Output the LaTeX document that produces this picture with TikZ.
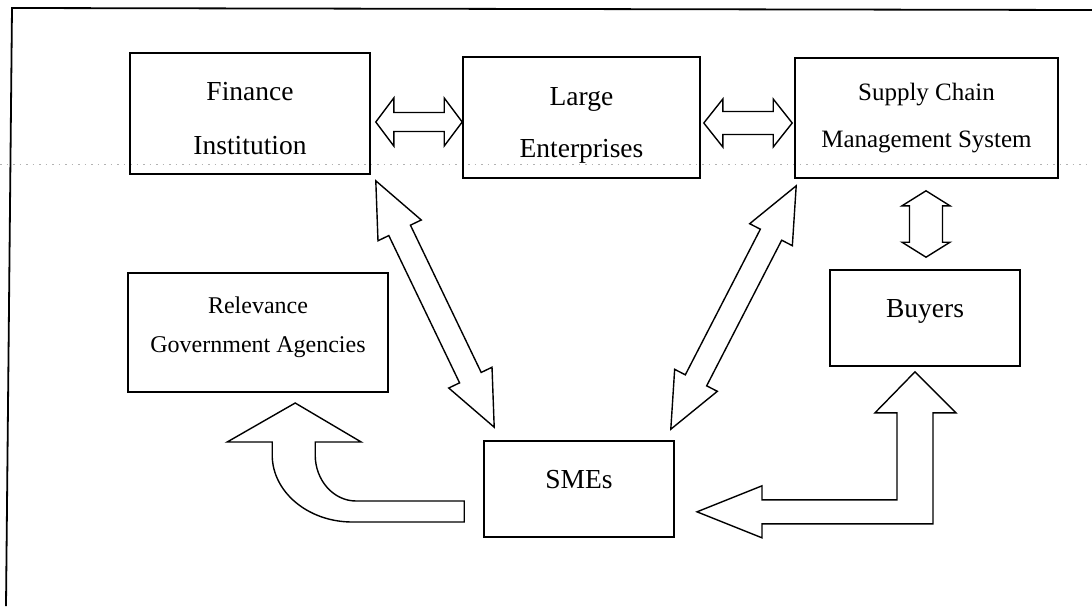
\documentclass[tikz,border=0pt]{standalone}
\usepackage{fontspec}
\setmainfont{Liberation Serif}
\usepackage{tikz}
\usetikzlibrary{calc}

\tikzset{
  box/.style={draw, line width=1.6pt, inner sep=0pt, align=center},
  blockarrow/.style={draw, line width=1.4pt, fill=white, line join=miter},
  bigtext/.style={font=\fontsize{27.5}{54}\selectfont}
}

% double-headed block arrow: tips, shaft half width, head half width, head length
\newcommand{\twoway}[5]{%
  \draw[blockarrow] (#1)
    -- ($(#1)!#5!(#2)!#4!90:(#2)$)
    -- ($(#1)!#5!(#2)!#3!90:(#2)$)
    -- ($(#2)!#5!(#1)!#3!-90:(#1)$)
    -- ($(#2)!#5!(#1)!#4!-90:(#1)$)
    -- (#2)
    -- ($(#2)!#5!(#1)!#4!90:(#1)$)
    -- ($(#2)!#5!(#1)!#3!90:(#1)$)
    -- ($(#1)!#5!(#2)!#3!-90:(#2)$)
    -- ($(#1)!#5!(#2)!#4!-90:(#2)$)
    -- cycle;}

\begin{document}
\begin{tikzpicture}[x=1pt, y=-1pt]
            \useasboundingbox (0,0) rectangle (1092,606);
            \draw[gray!60, line width=0.8pt, dash pattern=on 1.5pt off 5pt] (0,164) -- (1092,164);
            \draw[line width=1.8pt] (6,606) -- (12,8) -- (1092,10);

            \node[box, bigtext, minimum width=240pt, text height=101pt, text depth=20pt] (fin) at (250,113.5) {Finance\\Institution};
            \node[box, font=\fontsize{27.5}{52}\selectfont, minimum width=237pt, text height=100pt, text depth=21pt] (large) at (581.5,117.5) {Large\\Enterprises};
            \node[box, font=\fontsize{25}{47}\selectfont, minimum width=263pt, text height=89pt, text depth=31pt] (scm) at (926.5,118) {Supply Chain\\Management System};
            \node[box, font=\fontsize{24}{39}\selectfont, minimum width=260pt, text height=79pt, text depth=40pt] (rel) at (258,332.5) {Relevance\\Government Agencies};
            \node[box, bigtext, minimum width=190pt, text height=47pt, text depth=49pt] (buy) at (925,318) {Buyers};
            \node[box, bigtext, minimum width=190pt, text height=47pt, text depth=49pt] (sme) at (579,489) {SMEs};

            \coordinate (fl-a) at ($(fin.east)+(5,8.5)$);
            \coordinate (fl-b) at ($(large.west)+(0,4.5)$);
            \coordinate (ls-a) at ($(large.east)+(3,5.5)$);
            \coordinate (ls-b) at ($(scm.west)+(-2,5)$);
            \coordinate (sb-a) at ($(scm.south)+(-0.5,12)$);
            \coordinate (sb-b) at ($(buy.north)+(1,-12)$);
            \coordinate (fs-a) at ($(fin.south east)+(5,6)$);
            \coordinate (fs-b) at ($(sme.north west)+(11,-13)$);
            \coordinate (ss-a) at ($(scm.south west)+(2,7)$);
            \coordinate (ss-b) at ($(sme.north east)+(-4,-11)$);

            \twoway{fl-a}{fl-b}{9.5pt}{24pt}{18pt}
            \twoway{ls-a}{ls-b}{11.5pt}{24pt}{19pt}
            \twoway{sb-a}{sb-b}{16.5pt}{24pt}{15pt}
            \twoway{fs-a}{fs-b}{12pt}{24pt}{55pt}
            \twoway{ss-a}{ss-b}{12pt}{24pt}{55pt}

            \draw[blockarrow] ($(sme.west)+(-19,12)$) -- ++(-108,0)
                .. controls +(-23,0) and +(0,25) .. ++(-41,-46)
                -- ++(0,-13) -- ++(46,0) -- ++(-66,-39) -- ++(-68,39) -- ++(45,0) -- ++(0,13)
                .. controls +(0,37) and +(-44,0) .. ++(80,67)
                -- ++(112,0) -- cycle;

            \draw[blockarrow] ($(buy.south)+(-10,5)$) -- ++(41,41) -- ++(-23,0) -- ++(0,111)
                -- ++(-171,0) -- ++(0,14) -- ++(-65,-26) -- ++(65,-26) -- ++(0,14)
                -- ++(135,0) -- ++(0,-87) -- ++(-22,0) -- cycle;
        \end{tikzpicture}
\end{document}
